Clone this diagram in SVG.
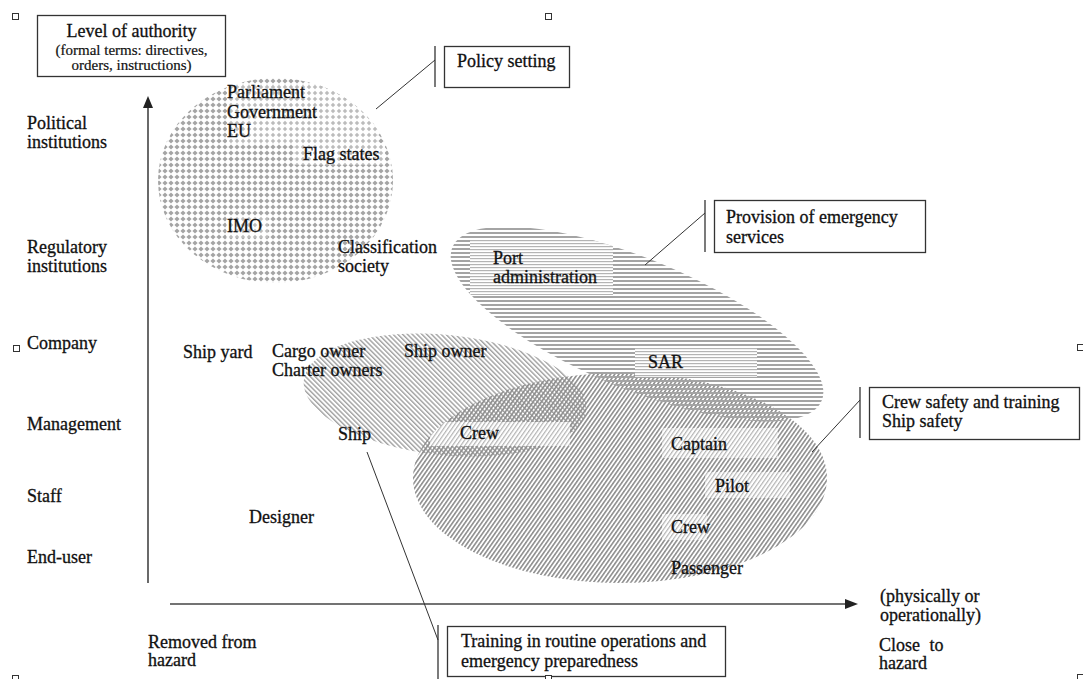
<svg xmlns="http://www.w3.org/2000/svg" width="1083" height="679" viewBox="0 0 1083 679">
<style>
text{font-family:"Liberation Serif","Times New Roman",serif;font-size:18px;fill:#111;stroke:#111;stroke-width:0.3}
.sm{font-size:15px;stroke-width:0.2}
.box{fill:#fff;stroke:#333;stroke-width:1.3}
.bar{stroke:#333;stroke-width:1.3}
.ln{stroke:#333;stroke-width:1;fill:none}
.axis{stroke:#444;stroke-width:1.6}
.hd{fill:#222}
.mk{fill:#fff;stroke:#333;stroke-width:1}
</style>
<defs>
<pattern id="dia" width="6" height="6" patternUnits="userSpaceOnUse"><polygon points="3,0.4 5.6,3 3,5.6 0.4,3" fill="#a4a4a4"/></pattern>
<pattern id="diaL" width="6" height="6" patternUnits="userSpaceOnUse"><rect width="6" height="6" fill="#fff"/><polygon points="3,0.8 5.2,3 3,5.2 0.8,3" fill="#bcbcbc"/></pattern>
<pattern id="hz" width="4" height="4" patternUnits="userSpaceOnUse"><rect width="4" height="2" fill="#a4a4a4"/></pattern>
<pattern id="hzL" width="3" height="3" patternUnits="userSpaceOnUse"><rect width="3" height="3" fill="#fff"/><rect width="3" height="1.2" fill="#b4b4b4"/></pattern>
<pattern id="bk" width="3.4" height="10" patternUnits="userSpaceOnUse" patternTransform="rotate(-45)"><rect width="1.4" height="10" fill="#a0a0a0"/></pattern>
<pattern id="fw" width="3.4" height="10" patternUnits="userSpaceOnUse" patternTransform="rotate(35)"><rect width="1.6" height="10" fill="#8e8e8e"/></pattern>
<pattern id="fwL" width="3.4" height="10" patternUnits="userSpaceOnUse" patternTransform="rotate(35)"><rect width="3.4" height="10" fill="#fff"/><rect width="1.2" height="10" fill="#b4b4b4"/></pattern>
<clipPath id="cTop"><ellipse cx="275.5" cy="180.5" rx="117.5" ry="102.5"/></clipPath>
<clipPath id="cShip"><ellipse cx="445" cy="395" rx="142" ry="60" transform="rotate(6 445 395)"/></clipPath>
<clipPath id="cCrew"><ellipse cx="620" cy="478" rx="207" ry="105"/></clipPath>
<clipPath id="cPort"><ellipse cx="637" cy="324" rx="200" ry="65" transform="rotate(22.6 637 324)"/></clipPath>
</defs>

<g id="markers">
<rect class="mk" x="12.5" y="13.5" width="6" height="6"/>
<rect class="mk" x="545.5" y="13.5" width="6" height="6"/>
<rect class="mk" x="13.5" y="345.5" width="6" height="6"/>
<rect class="mk" x="1077.5" y="344.5" width="6" height="6"/>
<rect class="mk" x="12.5" y="675.5" width="6" height="6"/>
<rect class="mk" x="1077.5" y="674.5" width="6" height="6"/>
</g>

<g id="region-policy">
<g clip-path="url(#cTop)">
<rect x="155" y="75" width="245" height="212" fill="url(#dia)"/>
<rect x="227" y="85" width="150" height="58" fill="url(#diaL)"/>
<rect x="295" y="143" width="90" height="22" fill="url(#diaL)"/>
<rect x="226" y="216" width="42" height="22" fill="url(#diaL)"/>
</g>
</g>

<g id="region-shipowner">
<g clip-path="url(#cShip)"><rect x="295" y="320" width="300" height="150" fill="url(#bk)"/></g>
</g>

<g id="region-crew">
<g clip-path="url(#cCrew)">
<rect x="405" y="365" width="430" height="225" fill="url(#fw)"/>
<rect x="430" y="422" width="140" height="24" fill="url(#fwL)"/>
<rect x="662" y="428" width="116" height="30" fill="url(#fwL)"/>
<rect x="705" y="472" width="85" height="26" fill="url(#fwL)"/>
<rect x="662" y="514" width="45" height="26" fill="url(#fwL)"/>
</g>
</g>

<g id="region-port">
<g clip-path="url(#cPort)">
<rect x="430" y="210" width="410" height="230" fill="url(#hz)"/>
<rect x="470" y="240" width="143" height="55" fill="url(#hzL)"/>
<rect x="635" y="347" width="122" height="30" fill="url(#hzL)"/>
</g>
</g>

<g id="axes">
<line class="axis" x1="148" y1="583" x2="148" y2="106"/>
<polygon class="hd" points="148,96 143,108 153,108"/>
<line class="axis" x1="170" y1="604" x2="846" y2="604"/>
<polygon class="hd" points="858,604 845,599 845,609"/>
</g>

<g id="connectors">
<line class="ln" x1="376" y1="109" x2="435" y2="60"/>
<line class="ln" x1="645" y1="265" x2="705" y2="213"/>
<line class="ln" x1="812" y1="452" x2="860" y2="400"/>
<line class="ln" x1="367" y1="452" x2="438" y2="640"/>
</g>

<g id="box-authority">
<rect class="box" x="37.5" y="15.5" width="188" height="61"/>
<text x="131.5" y="37" text-anchor="middle">Level of authority</text>
<text class="sm" x="131.5" y="55" text-anchor="middle">(formal terms: directives,</text>
<text class="sm" x="131.5" y="70" text-anchor="middle">orders, instructions)</text>
</g>

<g id="box-policy">
<line class="bar" x1="435" y1="46" x2="435" y2="87"/>
<rect class="box" x="444.5" y="46.5" width="125" height="41"/>
<text x="457" y="67">Policy setting</text>
</g>

<g id="box-emergency">
<line class="bar" x1="705" y1="200" x2="705" y2="252"/>
<rect class="box" x="714.5" y="200.5" width="211" height="52"/>
<text x="726" y="223">Provision of emergency</text>
<text x="726" y="243">services</text>
</g>

<g id="box-crewsafety">
<line class="bar" x1="860" y1="387" x2="860" y2="438"/>
<rect class="box" x="869.5" y="387.5" width="210" height="52"/>
<text x="882" y="408">Crew safety and training</text>
<text x="882" y="427">Ship safety</text>
</g>

<g id="box-training">
<line class="bar" x1="438" y1="625" x2="438" y2="679"/>
<rect class="box" x="447.5" y="626.5" width="278" height="50"/>
<text x="461" y="647">Training in routine operations and</text>
<text x="461" y="667">emergency preparedness</text>
<rect class="mk" x="545.5" y="675.5" width="6" height="6"/>
</g>

<g id="axis-labels">
<text x="27" y="129">Political</text>
<text x="27" y="148">institutions</text>
<text x="27" y="253">Regulatory</text>
<text x="27" y="272">institutions</text>
<text x="27" y="349">Company</text>
<text x="27" y="430">Management</text>
<text x="27" y="502">Staff</text>
<text x="27" y="563">End-user</text>
<text x="148" y="648">Removed from</text>
<text x="148" y="666">hazard</text>
<text x="880" y="602">(physically or</text>
<text x="880" y="621">operationally)</text>
<text x="879" y="651" word-spacing="5">Close to</text>
<text x="879" y="669">hazard</text>
</g>

<g id="actors">
<text x="227" y="98">Parliament</text>
<text x="227" y="118">Government</text>
<text x="227" y="137">EU</text>
<text x="303" y="160">Flag states</text>
<text x="227" y="232">IMO</text>
<text x="338" y="253">Classification</text>
<text x="338" y="272">society</text>
<text x="493" y="264">Port</text>
<text x="493" y="283">administration</text>
<text x="648" y="368">SAR</text>
<text x="183" y="358">Ship yard</text>
<text x="272" y="357">Cargo owner</text>
<text x="272" y="376">Charter owners</text>
<text x="404" y="357">Ship owner</text>
<text x="338" y="440">Ship</text>
<text x="460" y="439">Crew</text>
<text x="671" y="450">Captain</text>
<text x="715" y="492">Pilot</text>
<text x="671" y="533">Crew</text>
<text x="671" y="574">Passenger</text>
<text x="249" y="523">Designer</text>
</g>
</svg>
